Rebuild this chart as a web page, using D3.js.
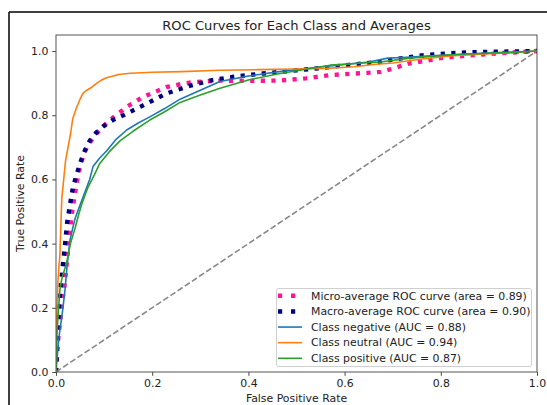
<!DOCTYPE html>
<html>
<head>
<meta charset="utf-8">
<script src="https://cdn.jsdelivr.net/npm/d3@7"></script>
<style>
  html, body { margin: 0; padding: 0; background: #fff; }
  svg { display: block; font-family: "DejaVu Sans", sans-serif; }
</style>
</head>
<body>
<svg id="chart" width="547" height="405"></svg>
<script>
// ROC curve points (false positive rate / true positive rate)
const microFpr = [0, 0.002, 0.005, 0.008, 0.012, 0.016, 0.019, 0.025, 0.033, 0.043, 0.05, 0.057, 0.064, 0.075, 0.085, 0.098, 0.112, 0.13, 0.147, 0.165, 0.181, 0.205, 0.23, 0.26, 0.285, 0.34, 0.40, 0.466, 0.52, 0.57, 0.62, 0.647, 0.675, 0.70, 0.72, 0.736, 0.77, 0.80, 0.84, 0.875, 0.93, 1.0];
const microTpr = [0, 0.07, 0.11, 0.15, 0.21, 0.25, 0.287, 0.38, 0.495, 0.59, 0.64, 0.675, 0.70, 0.725, 0.744, 0.765, 0.785, 0.806, 0.826, 0.842, 0.857, 0.872, 0.888, 0.897, 0.903, 0.908, 0.907, 0.908, 0.915, 0.925, 0.93, 0.932, 0.935, 0.945, 0.955, 0.962, 0.97, 0.978, 0.984, 0.988, 0.994, 1.0];

const macroFpr = [0, 0.002, 0.004, 0.006, 0.009, 0.012, 0.015, 0.019, 0.023, 0.029, 0.035, 0.04, 0.05, 0.06, 0.07, 0.083, 0.098, 0.118, 0.14, 0.175, 0.20, 0.23, 0.279, 0.32, 0.37, 0.43, 0.50, 0.55, 0.61, 0.674, 0.694, 0.73, 0.77, 0.82, 0.86, 0.92, 1.0];
const macroTpr = [0, 0.06, 0.11, 0.20, 0.255, 0.30, 0.345, 0.40, 0.464, 0.52, 0.573, 0.60, 0.65, 0.69, 0.72, 0.745, 0.765, 0.785, 0.80, 0.826, 0.845, 0.868, 0.892, 0.908, 0.92, 0.93, 0.94, 0.947, 0.957, 0.966, 0.972, 0.98, 0.988, 0.993, 0.996, 0.998, 1.0];

const negFpr = [0, 0.002, 0.005, 0.008, 0.012, 0.016, 0.019, 0.023, 0.029, 0.035, 0.04, 0.05, 0.06, 0.07, 0.077, 0.09, 0.106, 0.125, 0.147, 0.17, 0.195, 0.225, 0.258, 0.30, 0.341, 0.40, 0.46, 0.53, 0.60, 0.65, 0.69, 0.72, 0.78, 0.85, 0.92, 1.0];
const negTpr = [0, 0.04, 0.09, 0.13, 0.17, 0.22, 0.26, 0.33, 0.41, 0.45, 0.48, 0.52, 0.56, 0.60, 0.64, 0.665, 0.69, 0.725, 0.754, 0.775, 0.795, 0.82, 0.85, 0.878, 0.905, 0.922, 0.935, 0.947, 0.958, 0.966, 0.978, 0.98, 0.985, 0.99, 0.995, 1.0];

const neuFpr = [0, 0.002, 0.004, 0.006, 0.008, 0.010, 0.012, 0.016, 0.020, 0.025, 0.030, 0.035, 0.043, 0.050, 0.056, 0.064, 0.075, 0.085, 0.095, 0.105, 0.115, 0.130, 0.155, 0.20, 0.26, 0.34, 0.42, 0.50, 0.56, 0.62, 0.66, 0.70, 0.76, 0.82, 0.88, 0.94, 1.0];
const neuTpr = [0, 0.20, 0.28, 0.33, 0.36, 0.45, 0.54, 0.60, 0.66, 0.70, 0.74, 0.79, 0.825, 0.85, 0.868, 0.878, 0.888, 0.90, 0.91, 0.917, 0.921, 0.927, 0.931, 0.934, 0.936, 0.94, 0.942, 0.944, 0.946, 0.951, 0.958, 0.963, 0.975, 0.985, 0.99, 0.994, 1.0];

const posFpr = [0, 0.001, 0.002, 0.005, 0.008, 0.012, 0.016, 0.022, 0.03, 0.04, 0.047, 0.053, 0.06, 0.067, 0.08, 0.091, 0.11, 0.133, 0.16, 0.195, 0.225, 0.258, 0.30, 0.341, 0.40, 0.466, 0.507, 0.57, 0.63, 0.674, 0.736, 0.79, 0.84, 0.9, 0.95, 1.0];
const posTpr = [0, 0.06, 0.12, 0.19, 0.255, 0.29, 0.31, 0.34, 0.40, 0.45, 0.49, 0.52, 0.55, 0.577, 0.615, 0.65, 0.685, 0.72, 0.75, 0.785, 0.81, 0.84, 0.863, 0.884, 0.91, 0.93, 0.94, 0.956, 0.962, 0.966, 0.978, 0.985, 0.99, 0.993, 0.996, 1.0];

const chanceFpr = [0, 1];
const chanceTpr = [0, 1];

const legendLabels = [
  "Micro-average ROC curve (area = 0.89)",
  "Macro-average ROC curve (area = 0.90)",
  "Class negative (AUC = 0.88)",
  "Class neutral (AUC = 0.94)",
  "Class positive (AUC = 0.87)"
];
const xTicks = [0, 0.2, 0.4, 0.6, 0.8, 1.0];
const yTicks = [0, 0.2, 0.4, 0.6, 0.8, 1.0];

const zip = (xs, ys) => xs.map((v, i) => [v, ys[i]]);

const series = [
  { pts: zip(microFpr, microTpr), color: "#ff1493", width: 4.4, dash: "4.2,6.4" },
  { pts: zip(macroFpr, macroTpr), color: "#000080", width: 4.4, dash: "4.2,6.4" },
  { pts: zip(negFpr, negTpr), color: "#1f77b4", width: 1.6, dash: null },
  { pts: zip(neuFpr, neuTpr), color: "#ff7f0e", width: 1.6, dash: null },
  { pts: zip(posFpr, posTpr), color: "#2ca02c", width: 1.6, dash: null }
];

const svg = d3.select("#chart");
const plotL = 56, plotR = 537, plotT = 35, plotB = 372;

const x = d3.scaleLinear().domain([0, 1]).range([plotL, plotR]);
const y = d3.scaleLinear().domain([0, 1.05]).range([plotB, plotT]);

// outer frame
svg.append("line").attr("x1", 9).attr("x2", 547).attr("y1", 12).attr("y2", 12)
  .attr("stroke", "#000").attr("stroke-width", 1.5);
svg.append("line").attr("x1", 9).attr("x2", 9).attr("y1", 12).attr("y2", 405)
  .attr("stroke", "#000").attr("stroke-width", 1.5);

svg.append("defs").append("clipPath").attr("id", "plotClip")
  .append("rect").attr("x", plotL).attr("y", plotT)
  .attr("width", plotR - plotL).attr("height", plotB - plotT);

const line = d3.line().x(d => x(d[0])).y(d => y(d[1]));
const plot = svg.append("g").attr("clip-path", "url(#plotClip)");

series.forEach(s => {
  const p = plot.append("path").datum(s.pts)
    .attr("d", line).attr("fill", "none")
    .attr("stroke", s.color).attr("stroke-width", s.width)
    .attr("stroke-linejoin", "round");
  if (s.dash) p.attr("stroke-dasharray", s.dash).attr("stroke-linecap", "butt");
});

plot.append("path").datum(zip(chanceFpr, chanceTpr))
  .attr("d", line).attr("fill", "none")
  .attr("stroke", "#888").attr("stroke-width", 1.6)
  .attr("stroke-dasharray", "6,2.6");

// axes
const xAxis = d3.axisBottom(x).tickValues(xTicks).tickFormat(d3.format(".1f"))
  .tickSize(3.8).tickPadding(3.2);
const yAxis = d3.axisLeft(y).tickValues(yTicks).tickFormat(d3.format(".1f"))
  .tickSize(3.8).tickPadding(3.8);

const gx = svg.append("g").attr("transform", `translate(0,${plotB})`).call(xAxis);
const gy = svg.append("g").attr("transform", `translate(${plotL},0)`).call(yAxis);
[gx, gy].forEach(g => {
  g.select(".domain").remove();
  g.selectAll(".tick line").attr("stroke", "#333").attr("stroke-width", 0.9);
  g.selectAll(".tick text").attr("fill", "#222").style("font-size", "10.9px")
    .style("font-family", "DejaVu Sans, sans-serif");
});

svg.append("rect").attr("x", plotL).attr("y", plotT)
  .attr("width", plotR - plotL).attr("height", plotB - plotT)
  .attr("fill", "none").attr("stroke", "#555").attr("stroke-width", 1);

// titles
svg.append("text").attr("x", (plotL + plotR) / 2).attr("y", 29.5)
  .attr("text-anchor", "middle").attr("fill", "#222")
  .style("font-size", "13.1px").text("ROC Curves for Each Class and Averages");
svg.append("text").attr("x", (plotL + plotR) / 2).attr("y", 402)
  .attr("text-anchor", "middle").attr("fill", "#222")
  .style("font-size", "10.9px").text("False Positive Rate");
svg.append("text").attr("transform", `translate(24,${(plotT + plotB) / 2}) rotate(-90)`)
  .attr("text-anchor", "middle").attr("fill", "#222")
  .style("font-size", "10.9px").text("True Positive Rate");

// legend
const lg = svg.append("g");
lg.append("rect").attr("x", 276.5).attr("y", 288.5).attr("width", 255).attr("height", 78)
  .attr("rx", 2).attr("fill", "rgba(255,255,255,0.8)")
  .attr("stroke", "#d0d0d0").attr("stroke-width", 1);
const rowY = d3.scaleLinear().domain([0, 4]).range([295.8, 358.3]);
series.forEach((s, i) => {
  const yy = rowY(i);
  const h = lg.append("line").attr("y1", yy).attr("y2", yy)
    .attr("stroke", s.color).attr("stroke-width", s.width);
  if (s.dash) h.attr("x1", 278).attr("x2", 296).attr("stroke-dasharray", "4.2,8.8");
  else h.attr("x1", 278).attr("x2", 302);
  lg.append("text").attr("x", 311).attr("y", yy).attr("dy", "0.35em")
    .attr("fill", "#222").style("font-size", "10.9px").text(legendLabels[i]);
});
</script>
</body>
</html>
